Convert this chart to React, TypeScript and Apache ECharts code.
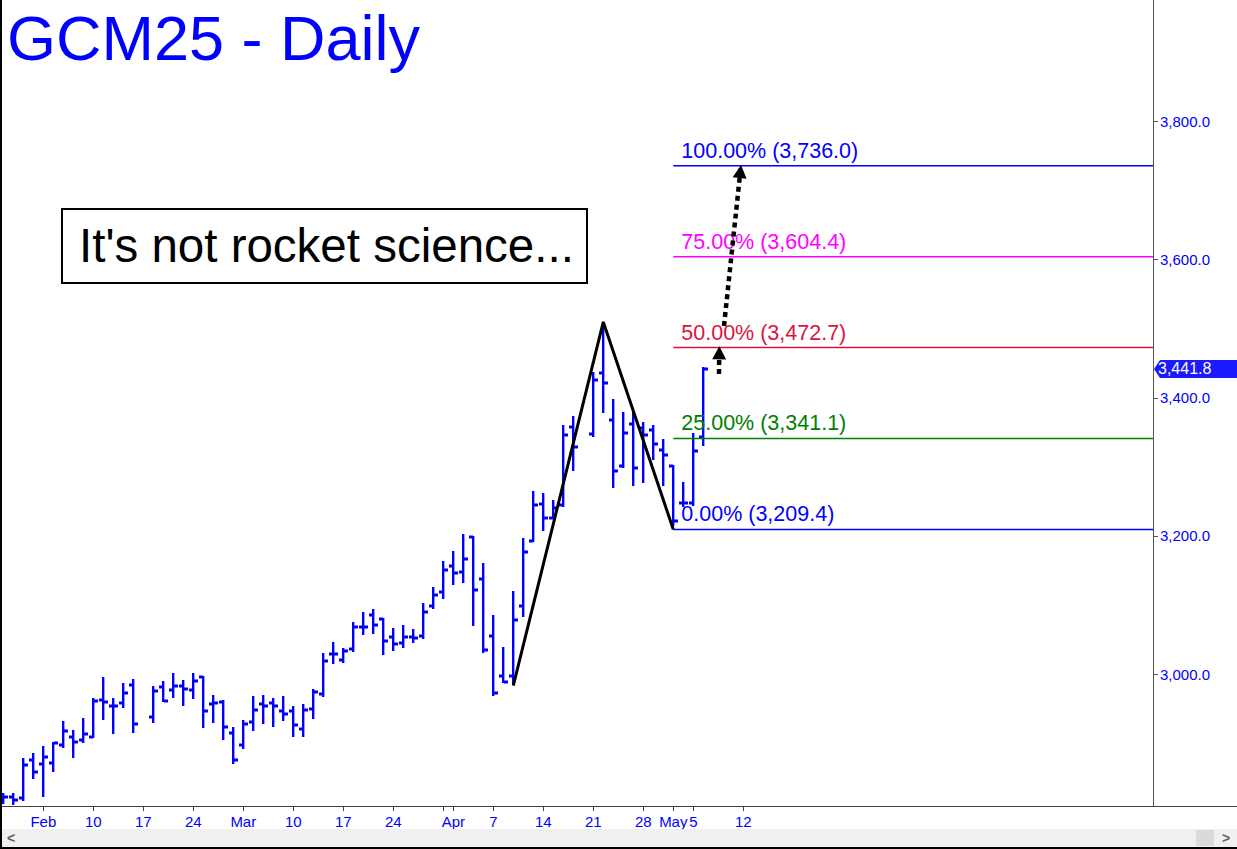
import React, { useEffect, useRef } from "react";
import * as echarts from "echarts";

// ---- Data (trading weekdays from Jan 28, 2025; null = exchange holiday) ----
const days = [
  "01-28","01-29","01-30","01-31",
  "02-03","02-04","02-05","02-06","02-07","02-10","02-11","02-12","02-13","02-14",
  "02-17","02-18","02-19","02-20","02-21","02-24","02-25","02-26","02-27","02-28",
  "03-03","03-04","03-05","03-06","03-07","03-10","03-11","03-12","03-13","03-14",
  "03-17","03-18","03-19","03-20","03-21","03-24","03-25","03-26","03-27","03-28","03-31",
  "04-01","04-02","04-03","04-04","04-07","04-08","04-09","04-10","04-11","04-14",
  "04-15","04-16","04-17","04-18","04-21","04-22","04-23","04-24","04-25","04-28",
  "04-29","04-30","05-01","05-02","05-05","05-06",
];
const opens = [
  2822.1, 2822.1, 2820.7, 2875.6, 2869.9, 2871.3, 2897.3, 2908.9, 2904.6, 2908.9,
  2962.4, 2953.7, 2958.1, 2984.1, null, 2937.8, 2981.2, 2976.9, 2982.6, 2976.9,
  2995.7, 2956.6, 2959.5, 2914.7, 2897.3, 2930.6, 2956.6, 2958.1, 2946.5, 2946.5,
  2920.5, 2949.4, 2971.1, 3028.9, 3020.2, 3036.2, 3068.0, 3085.3, 3079.5, 3053.5,
  3044.8, 3053.5, 3055.0, 3098.3, 3118.6, 3156.2, 3147.5, 3198.1, 3137.4, 3055.0,
  2997.1, 2997.1, 3098.3, 3192.3, 3245.8, 3225.6, 3244.4, 3357.2, null, 3347.1,
  3435.3, 3367.3, 3300.8, 3361.5, 3355.7, 3352.8, 3323.9, 3300.8, 3247.3, 3247.3,
  3342.7,
];
const highs = [
  2827.9, 2827.9, 2878.5, 2885.8, 2895.9, 2901.7, 2932.0, 2919.0, 2936.4, 2965.3,
  2995.7, 2965.3, 2987.0, 2992.8, null, 2982.6, 2989.9, 3001.4, 2991.3, 3001.4,
  2997.1, 2969.6, 2962.4, 2923.4, 2933.5, 2968.2, 2969.6, 2965.3, 2968.2, 2953.7,
  2956.6, 2978.3, 3030.4, 3046.3, 3037.6, 3075.2, 3089.7, 3094.0, 3081.0, 3066.5,
  3070.9, 3065.1, 3102.7, 3125.8, 3163.4, 3177.9, 3202.5, 3200.0, 3160.5, 3085.3,
  3039.0, 3120.0, 3196.7, 3264.6, 3261.7, 3251.6, 3360.1, 3373.1, null, 3436.7,
  3509.9, 3397.7, 3378.9, 3378.9, 3364.4, 3360.1, 3339.8, 3302.2, 3277.7, 3348.5,
  3444.0,
];
const lows = [
  2812.0, 2810.6, 2816.3, 2848.2, 2822.1, 2858.3, 2893.0, 2878.5, 2900.2, 2907.4,
  2933.5, 2913.2, 2950.8, 2914.7, null, 2929.1, 2959.5, 2965.3, 2953.7, 2963.8,
  2921.9, 2929.1, 2904.6, 2869.9, 2891.5, 2917.6, 2927.7, 2923.4, 2932.0, 2908.9,
  2908.9, 2934.9, 2966.7, 3014.5, 3015.9, 3031.8, 3056.4, 3057.8, 3027.5, 3033.3,
  3037.6, 3044.8, 3050.6, 3094.0, 3108.5, 3128.7, 3131.6, 3069.4, 3030.4, 2968.2,
  2987.0, 2984.1, 3082.4, 3190.9, 3206.8, 3224.1, 3241.5, 3293.6, null, 3342.7,
  3377.4, 3269.0, 3297.9, 3271.9, 3276.2, 3309.5, 3271.9, 3215.0, 3241.5, 3242.9,
  3329.7,
];
const closes = [
  2822.1, 2817.7, 2868.4, 2858.3, 2880.0, 2900.2, 2917.6, 2901.7, 2913.2, 2961.0,
  2959.5, 2953.7, 2972.5, 2927.7, null, 2975.4, 2961.0, 2982.6, 2978.3, 2989.9,
  2946.5, 2958.1, 2923.4, 2875.6, 2927.7, 2947.9, 2953.7, 2953.7, 2942.2, 2926.2,
  2947.9, 2974.0, 3018.8, 3028.9, 3033.3, 3068.0, 3068.0, 3070.9, 3047.7, 3043.4,
  3053.5, 3052.1, 3089.7, 3114.2, 3150.4, 3146.1, 3166.3, 3121.5, 3034.7, 2972.5,
  2988.4, 3078.1, 3176.4, 3244.4, 3225.6, 3240.0, 3345.6, 3328.3, null, 3425.2,
  3420.8, 3293.6, 3348.5, 3297.9, 3345.6, 3332.6, 3316.7, 3221.3, 3247.3, 3322.5,
  3441.8,
];

// x-axis ticks (index into the weekday sequence) and their labels
const tickIdx = [4, 9, 14, 19, 24, 29, 34, 39, 44, 45, 49, 54, 59, 64, 67, 69, 74];
const tickLabels = ["Feb", "10", "17", "24", "Mar", "10", "17", "24", "", "Apr", "7", "14", "21", "28", "May", "5", "12"];
const yTicks = [3000, 3200, 3400, 3600, 3800];

// ABC swing (A = Apr 9, B = Apr 22, C = May 1)
const abcIdx = [51, 60, 67];
const abcVals = [2983.3, 3509.9, 3209.4];

// Fibonacci projection levels
const fibStartIdx = 67;
const fibPcts = ["0.00%", "25.00%", "50.00%", "75.00%", "100.00%"];
const fibVals = [3209.4, 3341.1, 3472.7, 3604.4, 3736.0];
const fibColors = ["#0000ff", "#008000", "#dc143c", "#ff00ff", "#0000ff"];

// Dotted arrows: [fromIdx, fromVal, toIdx, toVal]
const arrows = [
  [71.57, 3434.4, 71.6, 3474.5],
  [72.07, 3504.0, 73.77, 3737.0],
];

const lastIdx = 70;
const lastClose = 3441.8;

const BLUE = "#0000ff";
const FONT = "'Liberation Sans', Arial, Helvetica, sans-serif";

function fmt(v: number): string {
  const neg = v < 0;
  const s = Math.abs(v).toFixed(1);
  const [ip, dp] = s.split(".");
  const withComma = ip.replace(/\B(?=(\d{3})+(?!\d))/g, ",");
  return (neg ? "-" : "") + withComma + "." + dp;
}

export default function App() {
  const ref = useRef<HTMLDivElement>(null);

  useEffect(() => {
    if (!ref.current) return;
    const chart = echarts.init(ref.current, undefined, { renderer: "svg" });

    const ohlc: number[][] = [];
    for (let i = 0; i < days.length; i++) {
      if (opens[i] == null) continue;
      ohlc.push([i, opens[i] as number, highs[i] as number, lows[i] as number, closes[i] as number]);
    }

    const option: any = {
      animation: false,
      backgroundColor: "#ffffff",
      grid: { left: 0, right: 84, top: 0, bottom: 43, containLabel: false },
      xAxis: {
        type: "value",
        min: -0.33,
        max: 114.97,
        axisLine: { show: true, onZero: false, lineStyle: { color: "#444", width: 1 } },
        axisTick: { show: true, customValues: tickIdx, length: 5, lineStyle: { color: "#444" } },
        axisLabel: {
          show: true,
          customValues: tickIdx,
          formatter: (val: number) => {
            const k = tickIdx.indexOf(Math.round(val));
            return k >= 0 ? tickLabels[k] : "";
          },
          color: BLUE,
          fontSize: 15,
          fontFamily: FONT,
          margin: 8,
        },
        splitLine: { show: false },
      },
      yAxis: {
        type: "value",
        position: "right",
        min: 2809,
        max: 3976,
        axisLine: { show: true, onZero: false, lineStyle: { color: "#555", width: 1 } },
        axisTick: { show: true, customValues: yTicks, length: 5, lineStyle: { color: "#555" } },
        axisLabel: {
          show: true,
          customValues: yTicks,
          formatter: (v: number) => fmt(v),
          color: BLUE,
          fontSize: 15,
          fontFamily: FONT,
          margin: 7,
        },
        splitLine: { show: false },
      },
      graphic: [
        {
          type: "text",
          x: 7,
          y: 38,
          style: {
            text: "GCM25 - Daily",
            fill: BLUE,
            fontSize: 63,
            fontFamily: FONT,
            textAlign: "left",
            textVerticalAlign: "middle",
            align: "left",
            verticalAlign: "middle",
          },
          z: 100,
        },
        {
          type: "rect",
          shape: { x: 62, y: 209, width: 525, height: 74 },
          style: { fill: "#ffffff", stroke: "#000000", lineWidth: 2 },
          z: 100,
        },
        {
          type: "text",
          x: 79,
          y: 245,
          style: {
            text: "It's not rocket science...",
            fill: "#000000",
            fontSize: 47.5,
            fontFamily: FONT,
            textAlign: "left",
            textVerticalAlign: "middle",
            align: "left",
            verticalAlign: "middle",
          },
          z: 101,
        },
        // extension of the bottom axis line under the price scale
        {
          type: "line",
          shape: { x1: 1153, y1: 806.5, x2: 1237, y2: 806.5 },
          style: { stroke: "#444", lineWidth: 1 },
          z: 100,
        },
        // scrollbar
        {
          type: "rect",
          shape: { x: 0, y: 829, width: 1237, height: 18 },
          style: { fill: "#f0f0f0" },
          z: 100,
        },
        {
          type: "rect",
          shape: { x: 1196, y: 830, width: 18, height: 16 },
          style: { fill: "#dadada" },
          z: 101,
        },
        {
          type: "text",
          x: 11,
          y: 838,
          style: { text: "<", fill: "#606060", fontSize: 14, fontFamily: FONT, fontWeight: "bold", textAlign: "center", textVerticalAlign: "middle", align: "center", verticalAlign: "middle" },
          z: 102,
        },
        {
          type: "text",
          x: 1226,
          y: 838,
          style: { text: ">", fill: "#606060", fontSize: 14, fontFamily: FONT, fontWeight: "bold", textAlign: "center", textVerticalAlign: "middle", align: "center", verticalAlign: "middle" },
          z: 102,
        },
        // frame (left and bottom edges)
        {
          type: "line",
          shape: { x1: 1, y1: 0, x2: 1, y2: 849 },
          style: { stroke: "#000000", lineWidth: 2 },
          z: 110,
        },
        {
          type: "line",
          shape: { x1: 0, y1: 848, x2: 1237, y2: 848 },
          style: { stroke: "#000000", lineWidth: 2 },
          z: 110,
        },
      ],
      series: [
        {
          type: "custom",
          name: "GCM25",
          data: ohlc,
          encode: { x: 0, y: [1, 2, 3, 4] },
          z: 2,
          renderItem: (params: any, api: any) => {
            const i = api.value(0);
            const o = api.coord([i, api.value(1)]);
            const h = api.coord([i, api.value(2)]);
            const l = api.coord([i, api.value(3)]);
            const c = api.coord([i, api.value(4)]);
            const x = Math.round(o[0]);
            const oy = Math.round(o[1]);
            const cy = Math.round(c[1]);
            return {
              type: "group",
              children: [
                { type: "rect", shape: { x: x - 1, y: Math.round(h[1]), width: 2.4, height: Math.max(2, Math.round(l[1]) - Math.round(h[1])) }, style: { fill: BLUE } },
                { type: "rect", shape: { x: x - 4, y: oy - 1.5, width: 4, height: 3 }, style: { fill: BLUE } },
                { type: "rect", shape: { x: x + 1, y: cy - 1.5, width: 4, height: 3 }, style: { fill: BLUE } },
              ],
            };
          },
        },
        {
          type: "custom",
          name: "Fib",
          data: fibVals.map((v) => [fibStartIdx, v]),
          encode: { x: 0, y: 1 },
          z: 3,
          clip: false,
          renderItem: (params: any, api: any) => {
            const k = params.dataIndex;
            const p = api.coord([api.value(0), api.value(1)]);
            const xEnd = params.coordSys.x + params.coordSys.width;
            return {
              type: "group",
              children: [
                {
                  type: "line",
                  shape: { x1: p[0], y1: p[1], x2: xEnd, y2: p[1] },
                  style: { stroke: fibColors[k], lineWidth: 1.5 },
                },
                {
                  type: "text",
                  x: p[0] + 8,
                  y: p[1] - 15,
                  style: {
                    text: fibPcts[k] + " (" + fmt(fibVals[k]) + ")",
                    fill: fibColors[k],
                    fontSize: 21.5,
                    fontFamily: FONT,
                    textAlign: "left",
                    textVerticalAlign: "middle",
                    align: "left",
                    verticalAlign: "middle",
                  },
                },
              ],
            };
          },
        },
        {
          type: "line",
          name: "ABC",
          data: abcIdx.map((x, k) => [x, abcVals[k]]),
          symbol: "none",
          z: 4,
          lineStyle: { color: "#000000", width: 3 },
        },
        {
          type: "custom",
          name: "Arrows",
          data: arrows,
          encode: { x: [0, 2], y: [1, 3] },
          z: 5,
          clip: false,
          renderItem: (params: any, api: any) => {
            const s = api.coord([api.value(0), api.value(1)]);
            const t = api.coord([api.value(2), api.value(3)]);
            const dx = t[0] - s[0];
            const dy = t[1] - s[1];
            const len = Math.hypot(dx, dy) || 1;
            const ux = dx / len;
            const uy = dy / len;
            const headL = 13;
            const headW = 7;
            const bx = t[0] - ux * headL;
            const by = t[1] - uy * headL;
            return {
              type: "group",
              children: [
                {
                  type: "line",
                  shape: { x1: s[0], y1: s[1], x2: bx, y2: by },
                  style: { stroke: "#000", lineWidth: 4.5, lineDash: [5, 4] },
                },
                {
                  type: "polygon",
                  shape: {
                    points: [
                      [t[0], t[1]],
                      [bx - uy * headW, by + ux * headW],
                      [bx + uy * headW, by - ux * headW],
                    ],
                  },
                  style: { fill: "#000" },
                },
              ],
            };
          },
        },
        {
          type: "custom",
          name: "Last",
          data: [[lastIdx, lastClose]],
          encode: { x: 0, y: 1 },
          z: 6,
          clip: false,
          renderItem: (params: any, api: any) => {
            const p = api.coord([api.value(0), api.value(1)]);
            const x0 = params.coordSys.x + params.coordSys.width;
            const y = p[1];
            return {
              type: "group",
              children: [
                {
                  type: "polygon",
                  shape: {
                    points: [
                      [x0 + 1, y],
                      [x0 + 7, y - 9],
                      [x0 + 84, y - 9],
                      [x0 + 84, y + 9],
                      [x0 + 7, y + 9],
                    ],
                  },
                  style: { fill: "#1a1aff" },
                },
                {
                  type: "text",
                  x: x0 + 5,
                  y: y,
                  style: {
                    text: fmt(lastClose),
                    fill: "#ffffff",
                    fontSize: 16,
                    fontFamily: FONT,
                    textAlign: "left",
                    textVerticalAlign: "middle",
                    align: "left",
                    verticalAlign: "middle",
                  },
                },
              ],
            };
          },
        },
      ],
    };

    chart.setOption(option);
    return () => chart.dispose();
  }, []);

  return (
    <div
      ref={ref}
      style={{ position: "fixed", left: 0, top: 0, width: 1237, height: 849, background: "#ffffff" }}
    />
  );
}
